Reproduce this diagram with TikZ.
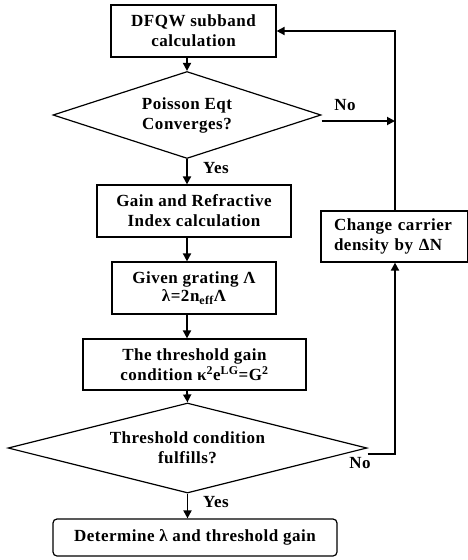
\documentclass[tikz,border=0pt]{standalone}
\usepackage{fontspec}
\setmainfont{Liberation Serif}[LetterSpace=3]
\usetikzlibrary{shapes.geometric,arrows.meta}
\begin{document}
\begin{tikzpicture}[x=1pt,y=-1pt,
  every node/.style={font=\fontsize{17}{20}\selectfont\bfseries},
  boxstyle/.style={draw,line width=1.2pt,inner sep=0pt,align=center},
  decision/.style={draw,diamond,line width=1.2pt,inner sep=0pt,align=center},
  flow/.style={line width=1.8pt,-{Triangle[length=8pt,width=8pt]}},
  lbl/.style={inner sep=0pt}]
\useasboundingbox (0,0) rectangle (467,560);
\node[boxstyle,minimum width=165,minimum height=52] (b1) at (193.5,31) {DFQW subband\\calculation};
\node[decision,minimum width=268,minimum height=87,shape aspect=3.08] (d1) at (187,115) {Poisson Eqt\\Converges?};
\node[boxstyle,minimum width=194,minimum height=52] (b2) at (194,211) {Gain and Refractive\\Index calculation};
\node[boxstyle,minimum width=164,minimum height=52] (b3) at (194,288) {Given grating Λ\\[-2pt]λ=2n\textsubscript{eff}Λ};
\node[boxstyle,minimum width=223,minimum height=51] (b4) at (194.5,364.5) {The threshold gain\\condition κ\textsuperscript{2}e\textsuperscript{LG}=G\textsuperscript{2}};
\node[decision,minimum width=359,minimum height=90,shape aspect=3.99] (d2) at (187.5,448) {Threshold condition\\fulfills?};
\node[boxstyle,minimum width=284,minimum height=37,rounded corners=4pt] (b6) at (195,537.5) {Determine λ and threshold gain};
\node[boxstyle,minimum width=147,minimum height=51,align=left,text width=121] (b5) at (394.5,236.5) {Change carrier\\density by ΔN};
\coordinate (rt) at (395,31);
\coordinate (rn) at (395,121);
\coordinate (rb) at (395,454);
\draw[flow] (b1.south -| d1.north) -- (d1.north);
\draw[flow] (d1.south) -- (d1.south |- b2.north);
\draw[flow] (d1.south |- b2.south) -- (d1.south |- b3.north);
\draw[flow] (d1.south |- b3.south) -- (d1.south |- b4.north);
\draw[flow] (d1.south |- b4.south) -- (d2.north);
\draw[flow] (d2.south) -- (d2.south |- b6.north);
\draw[flow] (d1.east |- rn) -- (rn);
\draw[flow] (d2.east |- rb) -- (rb) -- (b5.south -| rb);
\draw[flow] (b5.north -| rt) -- (rt) -- (b1.east |- rt);
\node[lbl] (no1) at (345,105) {No};
\node[lbl] (yes1) at (216,168) {Yes};
\node[lbl] (no2) at (360,463) {No};
\node[lbl] (yes2) at (216,502) {Yes};
\end{tikzpicture}
\end{document}
